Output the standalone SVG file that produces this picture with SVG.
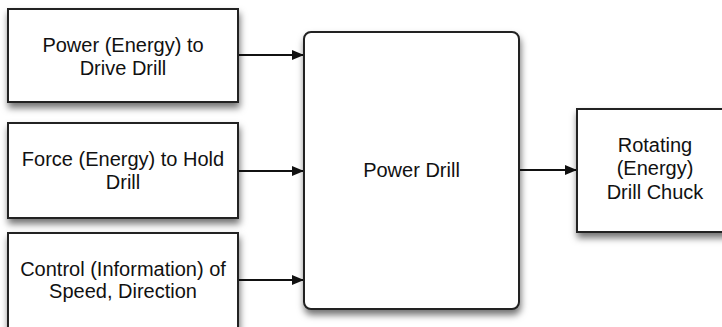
<svg xmlns="http://www.w3.org/2000/svg" width="722" height="327" viewBox="0 0 722 327">
<defs>
<filter id="sh" x="-10%" y="-10%" width="125%" height="130%">
<feDropShadow dx="1" dy="5" stdDeviation="3.5" flood-color="#000" flood-opacity="0.55"/>
</filter>
<marker id="ah" viewBox="0 0 12 10" refX="12" refY="5" markerWidth="12" markerHeight="10" markerUnits="userSpaceOnUse" orient="auto">
<path d="M0,0 L12,5 L0,10 z" fill="#111"/>
</marker>
<style>
.box{fill:#fff;stroke:#222;stroke-width:2;filter:url(#sh)}
.t{font-family:"Liberation Sans",Arial,sans-serif;font-size:20px;fill:#111;text-anchor:middle}
.c{stroke:#111;stroke-width:2;fill:none;marker-end:url(#ah)}
</style>
</defs>
<rect width="722" height="327" fill="#fff"/>
<g id="connectors">
<line class="c" x1="238" y1="55" x2="304" y2="55"/>
<line class="c" x1="238" y1="171" x2="304" y2="171"/>
<line class="c" x1="238" y1="280" x2="304" y2="280"/>
<line class="c" x1="519" y1="170" x2="577" y2="170"/>
</g>
<g id="power">
<rect class="box" x="8" y="9" width="230" height="93"/>
<text class="t" x="123" y="52">Power (Energy) to</text>
<text class="t" x="123" y="75">Drive Drill</text>
</g>
<g id="force">
<rect class="box" x="8" y="123" width="230" height="95"/>
<text class="t" x="123" y="166">Force (Energy) to Hold</text>
<text class="t" x="123" y="189">Drill</text>
</g>
<g id="control">
<rect class="box" x="8" y="233" width="230" height="96"/>
<text class="t" x="123" y="276">Control (Information) of</text>
<text class="t" x="123" y="298">Speed, Direction</text>
</g>
<g id="drill">
<rect class="box" x="304" y="32" width="215" height="277" rx="7" ry="7"/>
<text class="t" x="411.5" y="177">Power Drill</text>
</g>
<g id="chuck">
<rect class="box" x="577" y="109" width="157" height="123"/>
<text class="t" x="655" y="152">Rotating</text>
<text class="t" x="655" y="175">(Energy)</text>
<text class="t" x="655" y="199">Drill Chuck</text>
</g>
</svg>
